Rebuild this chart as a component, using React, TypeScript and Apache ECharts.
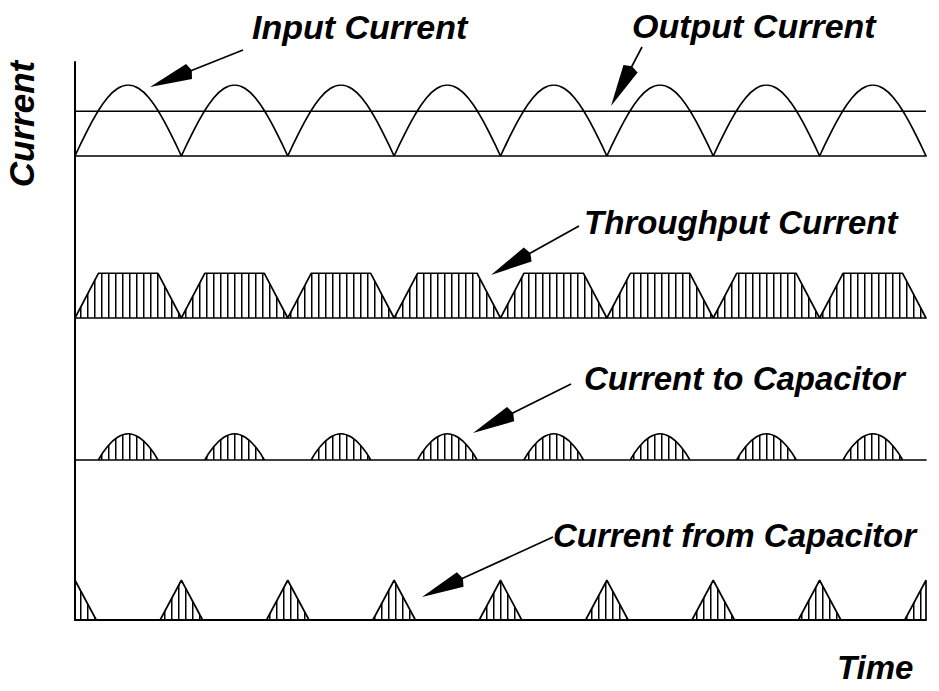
import React, { useEffect, useRef } from "react";
import * as echarts from "echarts";

// ---- data (units: x = half-cycles, y = input peak = 1) ----
const halfCycleStarts = [0, 1, 2, 3, 4, 5, 6, 7];
const inputHumpX = [0, 0.1, 0.2, 0.3, 0.4, 0.5, 0.6, 0.7, 0.8, 0.9, 1];
const inputHumpY = [0, 0.31, 0.59, 0.81, 0.95, 1, 0.95, 0.81, 0.59, 0.31, 0];
const outputX = [0, 8];
const outputY = [0.63, 0.63];
const throughputHumpX = [0, 0.22, 0.78, 1];
const throughputHumpY = [0, 0.63, 0.63, 0];
const toCapHumpX = [0.22, 0.3, 0.4, 0.5, 0.6, 0.7, 0.78];
const toCapHumpY = [0, 0.18, 0.32, 0.37, 0.32, 0.18, 0];
const fromCapPeaks = [0, 1, 2, 3, 4, 5, 6, 7, 8];
const fromCapShapeX = [-0.2, 0, 0.2];
const fromCapShapeY = [0, 0.56, 0];
const xRange = [0, 8];

const labelTexts = [
  "Input Current",
  "Output Current",
  "Throughput Current",
  "Current to Capacitor",
  "Current from Capacitor",
];
const xAxisTitle = "Time";
const yAxisTitle = "Current";

function humpData(starts: number[], xs: number[], ys: number[], breakAfter: boolean) {
  const out: any[] = [];
  starts.forEach((s) => {
    xs.forEach((x, i) => {
      const px = Math.min(xRange[1], Math.max(xRange[0], s + x));
      out.push([px, ys[i]]);
    });
    if (breakAfter) out.push([s + xs[xs.length - 1], "-"]);
  });
  return out;
}

const FONT = "'Liberation Sans', Arial, sans-serif";

function arrow(tx: number, ty: number, hx: number, hy: number, headLen = 42, halfW = 8) {
  const dx = tx - hx;
  const dy = ty - hy;
  const len = Math.sqrt(dx * dx + dy * dy);
  const ux = dx / len;
  const uy = dy / len;
  const bx = hx + ux * headLen;
  const by = hy + uy * headLen;
  const px = -uy;
  const py = ux;
  return {
    type: "group",
    silent: true,
    children: [
      {
        type: "line",
        shape: { x1: tx, y1: ty, x2: bx - ux * 2, y2: by - uy * 2 },
        style: { stroke: "#000", lineWidth: 1.7 },
      },
      {
        type: "polygon",
        shape: {
          points: [
            [hx, hy],
            [bx + px * halfW, by + py * halfW],
            [bx + ux * 3, by + uy * 3],
            [bx - px * halfW, by - py * halfW],
          ],
        },
        style: { fill: "#000" },
      },
    ],
  };
}

function label(text: string, x: number, y: number, size: number, extra: any = {}) {
  return {
    type: "text",
    x,
    y,
    silent: true,
    ...extra,
    style: {
      text,
      font: `italic bold ${size}px ${FONT}`,
      fill: "#000",
      align: "left",
      verticalAlign: "middle",
      ...(extra.style || {}),
    },
  };
}

export default function App() {
  const ref = useRef<HTMLDivElement>(null);
  useEffect(() => {
    const chart = echarts.init(ref.current!, null, { renderer: "svg", width: 939, height: 691 });

    const hatch = document.createElement("canvas");
    hatch.width = 7;
    hatch.height = 7;
    const ctx = hatch.getContext("2d")!;
    ctx.fillStyle = "#000";
    ctx.fillRect(3, 0, 1.5, 7);
    const hatchFill = { image: hatch, repeat: "repeat" };

    const panelTops = [85, 247, 389, 549];
    const grids: any[] = panelTops.map((top) => ({ left: 75, right: 13, top, height: 71 }));
    grids.push({ left: 75, right: 13, top: 62, height: 558 });

    const axisLineStyle = (w: number) => ({ show: true, onZero: true, lineStyle: { color: "#000", width: w } });
    const xAxes = grids.map((_, i) => ({
      type: "value",
      gridIndex: i,
      min: xRange[0],
      max: xRange[1],
      axisLine: i === 3 ? { show: false } : axisLineStyle(i === 4 ? 2 : 1.7),
      axisTick: { show: false },
      axisLabel: { show: false },
      splitLine: { show: false },
    }));
    const yAxes = grids.map((_, i) => ({
      type: "value",
      gridIndex: i,
      min: 0,
      max: 1,
      axisLine: i === 4 ? axisLineStyle(2) : { show: false },
      axisTick: { show: false },
      axisLabel: { show: false },
      splitLine: { show: false },
    }));

    const lineBase = {
      type: "line",
      showSymbol: false,
      symbol: "none",
      silent: true,
      lineStyle: { color: "#000", width: 1.7 },
    };

    chart.setOption({
      animation: false,
      backgroundColor: "#fff",
      grid: grids,
      xAxis: xAxes,
      yAxis: yAxes,
      series: [
        {
          ...lineBase,
          name: labelTexts[0],
          xAxisIndex: 0,
          yAxisIndex: 0,
          smooth: 0.45,
          data: humpData(halfCycleStarts, inputHumpX, inputHumpY, true),
        },
        {
          ...lineBase,
          name: labelTexts[1],
          xAxisIndex: 0,
          yAxisIndex: 0,
          data: outputX.map((x, i) => [x, outputY[i]]),
        },
        {
          ...lineBase,
          name: labelTexts[2],
          xAxisIndex: 1,
          yAxisIndex: 1,
          data: humpData(halfCycleStarts, throughputHumpX, throughputHumpY, false),
          areaStyle: { color: hatchFill, opacity: 1 },
        },
        {
          ...lineBase,
          name: labelTexts[3],
          xAxisIndex: 2,
          yAxisIndex: 2,
          smooth: 0.45,
          data: humpData(halfCycleStarts, toCapHumpX, toCapHumpY, true),
          areaStyle: { color: hatchFill, opacity: 1 },
        },
        {
          ...lineBase,
          name: labelTexts[4],
          xAxisIndex: 3,
          yAxisIndex: 3,
          data: humpData(fromCapPeaks, fromCapShapeX, fromCapShapeY, false),
          areaStyle: { color: hatchFill, opacity: 1 },
        },
      ],
      graphic: [
        label(labelTexts[0], 252, 27, 34),
        label(labelTexts[1], 632, 26, 34),
        label(labelTexts[2], 584, 222, 33),
        label(labelTexts[3], 584, 378, 33),
        label(labelTexts[4], 553, 535, 33),
        label(xAxisTitle, 837, 667, 33),
        label(yAxisTitle, 21, 124, 35, { rotation: Math.PI / 2, style: { align: "center" } }),
        arrow(243, 50, 150, 87),
        arrow(642, 47, 611, 106),
        arrow(579, 226, 491, 275),
        arrow(571, 384, 473, 433),
        arrow(553, 537, 422, 597),
      ],
    });
    return () => chart.dispose();
  }, []);
  return (
    <div
      ref={ref}
      style={{ position: "fixed", left: 0, top: 0, width: 939, height: 691, background: "#fff" }}
    />
  );
}
